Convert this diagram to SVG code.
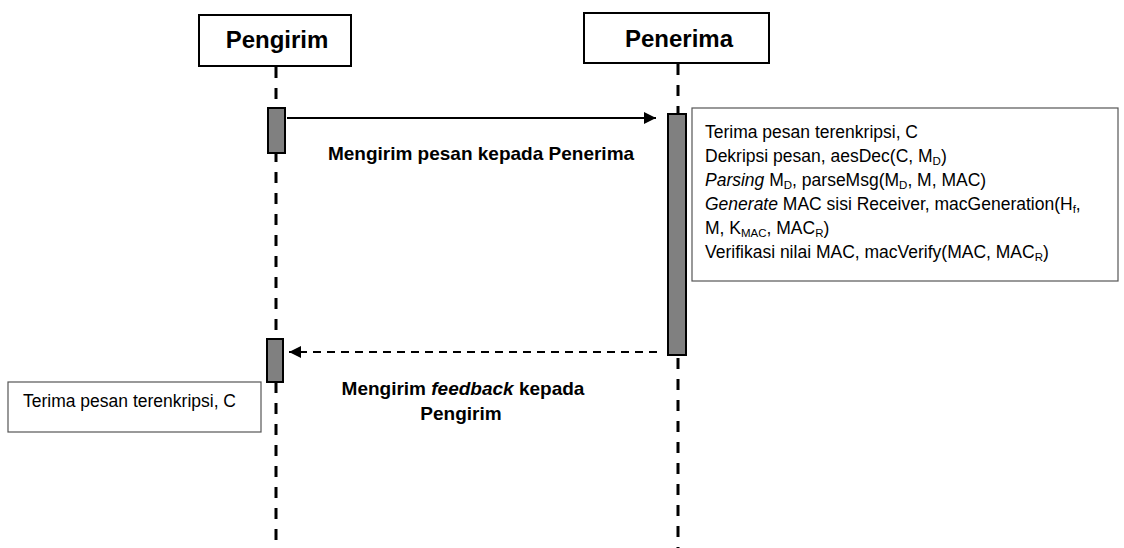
<svg xmlns="http://www.w3.org/2000/svg" width="1124" height="548" viewBox="0 0 1124 548">
<defs>
<style>
.box{fill:#fff;stroke:#000;stroke-width:2}
.title{font-family:"Liberation Sans",Arial,sans-serif;font-weight:bold;font-size:24px;fill:#000}
.life{stroke:#000;stroke-width:3;stroke-dasharray:11 10;fill:none}
.act{fill:#808080;stroke:#000;stroke-width:2}
.note{fill:#fff;stroke:#555;stroke-width:1.2}
.nt{font-family:"Liberation Sans",Arial,sans-serif;font-size:17.5px;fill:#000}
.lbl{font-family:"Liberation Sans",Arial,sans-serif;font-weight:bold;font-size:19px;fill:#000}
.msg{stroke:#000;stroke-width:2;fill:none}
.sub{font-size:11.5px}
</style>
<marker id="ah" viewBox="0 0 10 10" refX="10" refY="5" markerWidth="12" markerHeight="12" markerUnits="userSpaceOnUse" orient="auto">
<path d="M0,0 L10,5 L0,10 z" fill="#000"/>
</marker>
</defs>
<rect width="1124" height="548" fill="#fff"/>
<g id="lifelines">
<line class="life" x1="276" y1="67" x2="276" y2="548"/>
<line class="life" x1="678" y1="64" x2="678" y2="548"/>
</g>
<g id="pengirim">
<rect class="box" x="199" y="15" width="152" height="51"/>
<text class="title" x="277" y="48" text-anchor="middle">Pengirim</text>
</g>
<g id="penerima">
<rect class="box" x="584" y="13" width="185" height="50"/>
<text class="title" x="679" y="47" text-anchor="middle">Penerima</text>
</g>
<g id="activations">
<rect class="act" x="268" y="108" width="17" height="45"/>
<rect class="act" x="668" y="114" width="18" height="241"/>
<rect class="act" x="267" y="339" width="16" height="43"/>
</g>
<g id="connectors">
<line class="msg" x1="287" y1="118" x2="656" y2="118" marker-end="url(#ah)"/>
<line class="msg" x1="657" y1="352" x2="289" y2="352" stroke-dasharray="8 6" marker-end="url(#ah)"/>
</g>
<g id="labels">
<text class="lbl" x="481" y="160" text-anchor="middle">Mengirim pesan kepada Penerima</text>
<text class="lbl" x="463" y="395" text-anchor="middle">Mengirim <tspan font-style="italic">feedback</tspan> kepada</text>
<text class="lbl" x="461" y="420" text-anchor="middle">Pengirim</text>
</g>
<g id="note-receiver">
<rect class="note" x="692" y="108" width="426" height="173"/>
<text class="nt" x="705" y="138">Terima pesan terenkripsi, C</text>
<text class="nt" x="705" y="162">Dekripsi pesan, aesDec(C, M<tspan class="sub" dy="3">D</tspan><tspan dy="-3">)</tspan></text>
<text class="nt" x="705" y="186"><tspan font-style="italic">Parsing</tspan> M<tspan class="sub" dy="3">D</tspan><tspan dy="-3">, parseMsg(M</tspan><tspan class="sub" dy="3">D</tspan><tspan dy="-3">, M, MAC)</tspan></text>
<text class="nt" x="705" y="210"><tspan font-style="italic">Generate</tspan> MAC sisi Receiver, macGeneration(H<tspan class="sub" dy="3">f</tspan><tspan dy="-3">,</tspan></text>
<text class="nt" x="705" y="234">M, K<tspan class="sub" dy="3">MAC</tspan><tspan dy="-3">, MAC</tspan><tspan class="sub" dy="3">R</tspan><tspan dy="-3">)</tspan></text>
<text class="nt" x="705" y="258">Verifikasi nilai MAC, macVerify(MAC, MAC<tspan class="sub" dy="3">R</tspan><tspan dy="-3">)</tspan></text>
</g>
<g id="note-sender">
<rect class="note" x="8" y="382" width="253" height="50"/>
<text class="nt" x="23" y="407">Terima pesan terenkripsi, C</text>
</g>
</svg>
